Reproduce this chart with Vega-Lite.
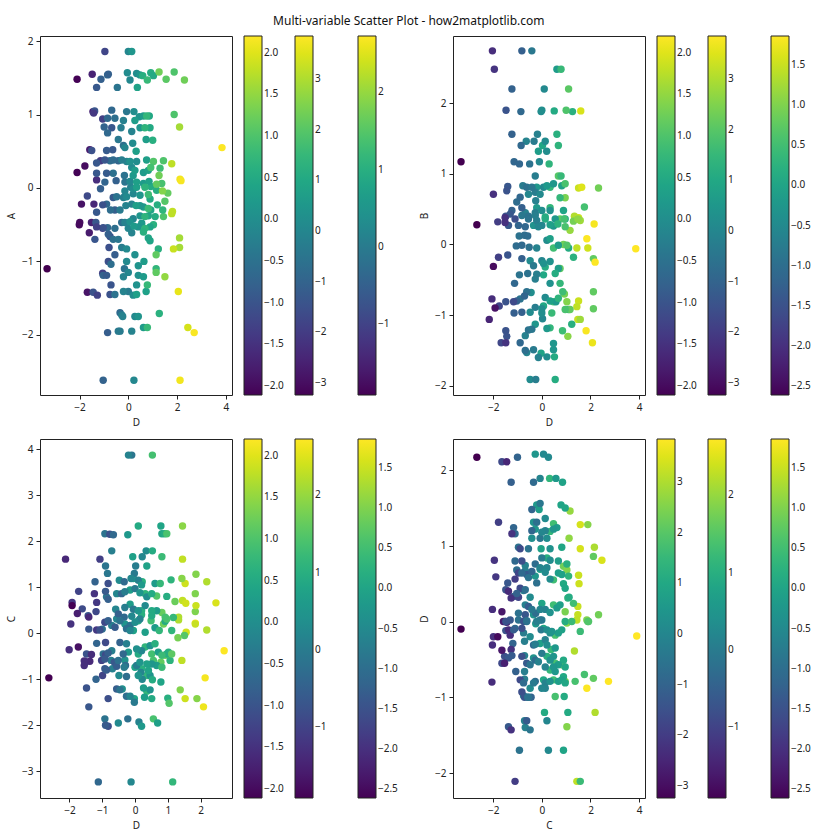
{
"$schema": "https://vega.github.io/schema/vega-lite/v6.json",
"padding": {"left": 6, "top": 14, "right": 5, "bottom": 5},
"title": {"text": "Multi-variable Scatter Plot - how2matplotlib.com", "fontSize": 12, "fontWeight": "normal", "anchor": "middle", "frame": "bounds", "offset": 8, "color": "#111"},
"bounds": "flush",
"columns": 2,
"spacing": {"row": 44, "column": 221},
"config": {
  "font": "Noto Sans",
  "view": {"stroke": "#222", "strokeWidth": 1},
  "circle": {"size": 55, "opacity": 1},
  "axis": {"grid": false, "domain": false, "format": "d", "tickColor": "#222", "tickSize": 4, "tickWidth": 1, "labelFontSize": 10, "labelColor": "#222", "titleFontSize": 10, "titleFontWeight": "normal", "titleColor": "#222", "labelPadding": 3, "titlePadding": 5},
  "legend": {"labelFontSize": 10, "labelColor": "#222", "gradientStrokeColor": "#222", "gradientStrokeWidth": 1, "labelOffset": 6, "padding": 0, "labelOverlap": false, "direction": "vertical", "gradientLength": 359, "gradientThickness": 18, "orient": "none", "legendY": 0}
},
"datasets": {
"tlB": [{"x":-0.96,"y":1.86},{"x":-1.48,"y":1.55},{"x":0.34,"y":1.56},{"x":0.92,"y":1.57},{"x":1.55,"y":1.48},{"x":-1.45,"y":1.04},{"x":-0.07,"y":1.04},{"x":-1.05,"y":0.94},{"x":0.45,"y":0.97},{"x":0.86,"y":0.98},{"x":-0.68,"y":0.82},{"x":0.89,"y":0.82},{"x":2.1,"y":0.83},{"x":0.14,"y":0.77},{"x":1.0,"y":0.65},{"x":-0.2,"y":0.58},{"x":-1.58,"y":0.52},{"x":-0.64,"y":0.52},{"x":-1.78,"y":0.3},{"x":-1.14,"y":0.37},{"x":-0.41,"y":0.37},{"x":0.34,"y":0.36},{"x":1.44,"y":0.37},{"x":-1.3,"y":0.11},{"x":-0.16,"y":0.17},{"x":-0.5,"y":0.1},{"x":0.62,"y":0.21},{"x":1.3,"y":0.27},{"x":-0.14,"y":0.08},{"x":0.62,"y":0.06},{"x":1.37,"y":0.06},{"x":-1.41,"y":-0.22},{"x":-0.62,"y":-0.13},{"x":0.1,"y":0.01},{"x":0.92,"y":0.02},{"x":1.62,"y":-0.07},{"x":0.2,"y":-0.08},{"x":0.89,"y":-0.15},{"x":1.5,"y":-0.18},{"x":-0.55,"y":-0.3},{"x":0.14,"y":-0.22},{"x":0.62,"y":-0.26},{"x":-1.51,"y":-0.47},{"x":-1.05,"y":-0.55},{"x":-1.6,"y":-0.61},{"x":-0.75,"y":-0.66},{"x":-0.27,"y":-0.47},{"x":0.2,"y":-0.42},{"x":0.82,"y":-0.38},{"x":1.44,"y":-0.39},{"x":0.14,"y":-0.61},{"x":0.55,"y":-0.48},{"x":1.03,"y":-0.5},{"x":0.82,"y":-0.68},{"x":2.1,"y":-0.68},{"x":2.1,"y":-0.81},{"x":-0.79,"y":-0.81},{"x":-0.55,"y":-0.91},{"x":-0.82,"y":-1.0},{"x":0.64,"y":-1.0},{"x":-1.05,"y":-1.16},{"x":-0.16,"y":-1.1},{"x":0.41,"y":-1.19},{"x":1.14,"y":-1.1},{"x":-0.71,"y":-1.32},{"x":-1.68,"y":-1.42},{"x":-0.75,"y":-1.45},{"x":0.0,"y":-1.41},{"x":0.73,"y":-1.41},{"x":-0.34,"y":-1.7},{"x":0.27,"y":-1.75},{"x":0.14,"y":-1.95},{"x":2.44,"y":-1.9},{"x":2.7,"y":-1.97},{"x":0.23,"y":-2.62}],
"tlC": [{"x":0.0,"y":1.86},{"x":-1.12,"y":1.48},{"x":-0.85,"y":1.54},{"x":0.48,"y":1.54},{"x":0.07,"y":1.47},{"x":1.03,"y":1.53},{"x":1.88,"y":1.58},{"x":2.3,"y":1.47},{"x":-1.3,"y":1.37},{"x":-1.38,"y":1.05},{"x":0.23,"y":1.04},{"x":1.88,"y":1.0},{"x":-0.85,"y":0.95},{"x":-0.2,"y":0.92},{"x":0.62,"y":0.98},{"x":-0.99,"y":0.83},{"x":0.48,"y":0.82},{"x":-0.85,"y":0.75},{"x":0.73,"y":0.66},{"x":-0.41,"y":0.66},{"x":0.18,"y":0.61},{"x":-1.5,"y":0.51},{"x":3.84,"y":0.55},{"x":-1.3,"y":0.34},{"x":-0.75,"y":0.37},{"x":-0.07,"y":0.36},{"x":0.75,"y":0.38},{"x":-1.3,"y":0.2},{"x":-0.62,"y":0.2},{"x":-0.96,"y":0.08},{"x":0.14,"y":0.28},{"x":0.82,"y":0.24},{"x":-1.14,"y":-0.01},{"x":0.07,"y":0.09},{"x":0.85,"y":0.09},{"x":-1.68,"y":-0.11},{"x":-1.3,"y":-0.33},{"x":-0.89,"y":-0.22},{"x":0.2,"y":-0.01},{"x":1.16,"y":-0.03},{"x":-0.2,"y":-0.13},{"x":0.48,"y":-0.1},{"x":1.19,"y":-0.23},{"x":1.41,"y":-0.3},{"x":-0.73,"y":-0.3},{"x":-0.1,"y":-0.24},{"x":0.48,"y":-0.24},{"x":0.92,"y":-0.3},{"x":-1.33,"y":-0.47},{"x":-0.85,"y":-0.54},{"x":-1.37,"y":-0.7},{"x":-0.62,"y":-0.7},{"x":-0.14,"y":-0.47},{"x":0.48,"y":-0.38},{"x":1.1,"y":-0.39},{"x":0.0,"y":-0.55},{"x":0.41,"y":-0.53},{"x":0.89,"y":-0.53},{"x":0.89,"y":-0.72},{"x":1.23,"y":-0.83},{"x":-0.27,"y":-0.81},{"x":0.27,"y":-0.91},{"x":-0.71,"y":-1.04},{"x":0.41,"y":-1.06},{"x":-1.03,"y":-1.19},{"x":0.0,"y":-1.15},{"x":0.62,"y":-1.21},{"x":-3.33,"y":-1.1},{"x":0.34,"y":-1.32},{"x":-1.44,"y":-1.42},{"x":-0.55,"y":-1.45},{"x":0.2,"y":-1.46},{"x":-0.27,"y":-1.73},{"x":0.41,"y":-1.75},{"x":1.27,"y":-1.71},{"x":-0.41,"y":-1.95},{"x":0.62,"y":-1.9},{"x":-1.03,"y":-2.62}],
"tlD": [{"x":0.14,"y":1.86},{"x":-2.1,"y":1.48},{"x":-0.82,"y":1.55},{"x":-0.45,"y":1.37},{"x":-0.04,"y":1.57},{"x":0.59,"y":1.53},{"x":0.37,"y":1.37},{"x":0.78,"y":1.47},{"x":1.26,"y":1.58},{"x":-1.42,"y":1.02},{"x":-0.68,"y":1.06},{"x":-0.55,"y":0.95},{"x":0.27,"y":0.92},{"x":0.75,"y":0.98},{"x":-0.3,"y":0.82},{"x":0.68,"y":0.82},{"x":-0.14,"y":0.55},{"x":0.32,"y":0.5},{"x":-0.89,"y":0.51},{"x":-2.1,"y":0.21},{"x":-0.96,"y":0.38},{"x":-0.62,"y":0.38},{"x":-0.27,"y":0.38},{"x":0.07,"y":0.36},{"x":1.03,"y":0.36},{"x":1.78,"y":0.33},{"x":-0.89,"y":0.2},{"x":0.2,"y":0.17},{"x":0.27,"y":0.24},{"x":0.92,"y":0.28},{"x":1.26,"y":0.17},{"x":2.12,"y":0.12},{"x":2.16,"y":0.1},{"x":0.34,"y":0.08},{"x":1.16,"y":0.05},{"x":-1.92,"y":-0.22},{"x":-1.05,"y":-0.23},{"x":-0.48,"y":-0.12},{"x":-0.14,"y":-0.04},{"x":0.34,"y":0.01},{"x":0.68,"y":0.01},{"x":1.4,"y":-0.04},{"x":-0.07,"y":-0.12},{"x":0.82,"y":-0.09},{"x":1.81,"y":-0.32},{"x":-0.34,"y":-0.3},{"x":0.32,"y":-0.24},{"x":0.82,"y":-0.28},{"x":-1.99,"y":-0.47},{"x":-2.01,"y":-0.5},{"x":-1.03,"y":-0.54},{"x":-1.3,"y":-0.53},{"x":-0.55,"y":-0.55},{"x":-0.82,"y":-0.63},{"x":-0.41,"y":-0.7},{"x":0.07,"y":-0.46},{"x":0.68,"y":-0.39},{"x":1.78,"y":-0.35},{"x":0.23,"y":-0.52},{"x":0.68,"y":-0.55},{"x":0.62,"y":-0.6},{"x":1.85,"y":-0.83},{"x":1.14,"y":-0.91},{"x":-0.07,"y":-0.83},{"x":-0.07,"y":-1.0},{"x":-0.89,"y":-1.19},{"x":-0.2,"y":-1.21},{"x":1.14,"y":-1.15},{"x":1.5,"y":-1.21},{"x":0.78,"y":-1.32},{"x":-1.27,"y":-1.46},{"x":-0.2,"y":-1.41},{"x":0.34,"y":-1.45},{"x":2.05,"y":-1.41},{"x":-0.23,"y":-1.75},{"x":-0.85,"y":-1.97},{"x":-0.34,"y":-1.95},{"x":0.78,"y":-1.9},{"x":2.12,"y":-2.62}],
"trA": [{"x":-2.03,"y":2.74},{"x":-1.95,"y":2.48},{"x":-1.23,"y":2.2},{"x":-1.47,"y":1.9},{"x":1.6,"y":1.89},{"x":-1.23,"y":1.56},{"x":-0.64,"y":1.46},{"x":0.03,"y":1.4},{"x":-0.14,"y":1.32},{"x":-1.14,"y":1.17},{"x":0.3,"y":1.14},{"x":0.68,"y":0.97},{"x":-1.99,"y":0.71},{"x":-1.4,"y":0.82},{"x":-0.78,"y":0.83},{"x":-0.21,"y":0.81},{"x":0.34,"y":0.81},{"x":1.51,"y":0.8},{"x":1.64,"y":0.81},{"x":-0.55,"y":0.71},{"x":-1.03,"y":0.6},{"x":-1.23,"y":0.48},{"x":-0.68,"y":0.45},{"x":-0.21,"y":0.52},{"x":0.34,"y":0.52},{"x":0.96,"y":0.66},{"x":1.34,"y":0.4},{"x":1.51,"y":0.38},{"x":0.14,"y":0.36},{"x":-2.67,"y":0.28},{"x":-1.81,"y":0.32},{"x":-1.37,"y":0.27},{"x":-0.82,"y":0.41},{"x":-0.34,"y":0.27},{"x":-0.93,"y":0.12},{"x":0.14,"y":0.39},{"x":0.75,"y":0.36},{"x":1.16,"y":0.2},{"x":1.85,"y":0.08},{"x":-1.05,"y":-0.02},{"x":0.48,"y":-0.05},{"x":0.89,"y":0.0},{"x":1.44,"y":-0.05},{"x":-1.78,"y":-0.18},{"x":-0.48,"y":-0.23},{"x":0.14,"y":-0.32},{"x":-0.92,"y":-0.43},{"x":0.07,"y":-0.43},{"x":0.75,"y":-0.34},{"x":-1.12,"y":-0.55},{"x":0.93,"y":-0.7},{"x":-2.05,"y":-0.77},{"x":-1.48,"y":-0.81},{"x":-0.89,"y":-0.77},{"x":-0.44,"y":-0.68},{"x":-0.48,"y":-0.96},{"x":0.07,"y":-0.87},{"x":0.48,"y":-0.81},{"x":1.03,"y":-0.81},{"x":1.51,"y":-0.8},{"x":1.44,"y":-0.88},{"x":0.41,"y":-0.97},{"x":-2.16,"y":-1.06},{"x":1.48,"y":-1.06},{"x":-1.48,"y":-1.22},{"x":-1.67,"y":-1.39},{"x":-0.68,"y":-1.29},{"x":-0.27,"y":-1.13},{"x":-0.62,"y":-1.53},{"x":-0.03,"y":-1.54},{"x":0.34,"y":-1.18},{"x":1.07,"y":-1.3},{"x":1.82,"y":-1.22},{"x":-0.48,"y":-1.91}],
"trC": [{"x":-0.41,"y":2.74},{"x":0.62,"y":2.48},{"x":0.1,"y":2.2},{"x":-0.86,"y":1.88},{"x":1.26,"y":1.88},{"x":-0.18,"y":1.56},{"x":-0.85,"y":1.4},{"x":0.14,"y":1.46},{"x":0.2,"y":1.32},{"x":-3.32,"y":1.17},{"x":-0.92,"y":1.14},{"x":-0.27,"y":0.97},{"x":-1.44,"y":0.76},{"x":-0.62,"y":0.81},{"x":0.07,"y":0.81},{"x":0.48,"y":0.86},{"x":0.82,"y":0.83},{"x":2.33,"y":0.8},{"x":-0.27,"y":0.74},{"x":-0.89,"y":0.67},{"x":-1.3,"y":0.43},{"x":-0.55,"y":0.4},{"x":-0.27,"y":0.45},{"x":0.34,"y":0.48},{"x":0.89,"y":0.48},{"x":1.75,"y":0.53},{"x":0.55,"y":0.36},{"x":-1.48,"y":0.4},{"x":-0.96,"y":0.27},{"x":-0.55,"y":0.36},{"x":-0.21,"y":0.34},{"x":-0.71,"y":0.13},{"x":0.0,"y":0.27},{"x":0.48,"y":0.26},{"x":0.96,"y":0.36},{"x":1.3,"y":-0.18},{"x":2.12,"y":-0.2},{"x":3.86,"y":-0.06},{"x":-0.82,"y":-0.01},{"x":0.21,"y":0.06},{"x":0.68,"y":-0.01},{"x":1.1,"y":-0.05},{"x":-1.4,"y":-0.15},{"x":-0.34,"y":-0.3},{"x":0.0,"y":-0.23},{"x":0.34,"y":-0.24},{"x":-0.58,"y":-0.41},{"x":-0.21,"y":-0.42},{"x":0.68,"y":-0.34},{"x":0.34,"y":-0.55},{"x":2.12,"y":-0.67},{"x":-1.75,"y":-0.87},{"x":-1.03,"y":-0.8},{"x":-0.62,"y":-0.67},{"x":-1.14,"y":-0.97},{"x":-0.27,"y":-0.89},{"x":0.14,"y":-0.75},{"x":0.58,"y":-0.81},{"x":1.1,"y":-0.92},{"x":2.12,"y":-0.91},{"x":0.03,"y":-1.05},{"x":-1.44,"y":-1.3},{"x":-0.89,"y":-1.39},{"x":-0.55,"y":-1.21},{"x":-0.68,"y":-1.5},{"x":-0.14,"y":-1.6},{"x":0.21,"y":-1.59},{"x":0.48,"y":-1.4},{"x":1.23,"y":-1.13},{"x":0.48,"y":-1.49},{"x":-0.25,"y":-1.91}],
"trD": [{"x":-0.82,"y":2.74},{"x":0.79,"y":2.48},{"x":1.1,"y":2.2},{"x":-0.03,"y":1.88},{"x":0.0,"y":1.9},{"x":0.51,"y":1.89},{"x":1.0,"y":1.9},{"x":0.62,"y":1.56},{"x":-0.32,"y":1.46},{"x":0.68,"y":1.4},{"x":-0.5,"y":1.14},{"x":-0.1,"y":1.17},{"x":0.79,"y":0.97},{"x":-0.41,"y":0.81},{"x":0.21,"y":0.83},{"x":0.96,"y":0.86},{"x":-0.07,"y":0.71},{"x":-1.51,"y":0.38},{"x":-0.82,"y":0.52},{"x":-0.25,"y":0.62},{"x":0.0,"y":0.48},{"x":0.75,"y":0.66},{"x":0.92,"y":0.36},{"x":1.58,"y":0.34},{"x":-1.51,"y":0.31},{"x":-1.1,"y":0.36},{"x":-0.68,"y":0.25},{"x":-0.27,"y":0.41},{"x":-0.14,"y":0.25},{"x":-0.58,"y":0.12},{"x":0.34,"y":0.28},{"x":0.66,"y":0.29},{"x":0.96,"y":0.25},{"x":1.3,"y":0.33},{"x":1.48,"y":0.36},{"x":2.15,"y":0.29},{"x":1.89,"y":-0.05},{"x":2.19,"y":-0.25},{"x":-0.52,"y":-0.04},{"x":-0.21,"y":-0.05},{"x":0.34,"y":0.08},{"x":1.03,"y":-0.01},{"x":-1.99,"y":-0.31},{"x":-0.82,"y":-0.2},{"x":0.07,"y":-0.27},{"x":-0.27,"y":-0.49},{"x":0.55,"y":-0.41},{"x":0.75,"y":-0.55},{"x":0.86,"y":-0.67},{"x":-1.92,"y":-0.9},{"x":-1.16,"y":-0.81},{"x":-0.71,"y":-0.73},{"x":-0.82,"y":-0.96},{"x":0.0,"y":-0.91},{"x":0.34,"y":-0.8},{"x":0.68,"y":-0.76},{"x":1.16,"y":-0.92},{"x":0.96,"y":-0.92},{"x":0.0,"y":-0.97},{"x":1.58,"y":-1.06},{"x":-1.48,"y":-1.39},{"x":-0.41,"y":-1.2},{"x":-0.34,"y":-1.49},{"x":0.52,"y":-1.59},{"x":0.21,"y":-1.19},{"x":0.85,"y":-1.22},{"x":2.08,"y":-1.39},{"x":0.55,"y":-1.91}],
"blA": [{"x":0.53,"y":3.87},{"x":0.1,"y":2.33},{"x":-0.92,"y":2.16},{"x":-0.22,"y":2.14},{"x":-0.71,"y":1.79},{"x":-2.12,"y":1.61},{"x":1.45,"y":1.61},{"x":-0.07,"y":1.66},{"x":-0.9,"y":1.46},{"x":-0.84,"y":1.3},{"x":-1.22,"y":1.12},{"x":-0.48,"y":1.15},{"x":-0.05,"y":1.19},{"x":0.22,"y":1.12},{"x":1.53,"y":1.08},{"x":-1.72,"y":0.91},{"x":-1.92,"y":0.67},{"x":-1.61,"y":0.53},{"x":-1.43,"y":0.38},{"x":-0.87,"y":0.79},{"x":-0.56,"y":0.86},{"x":-0.15,"y":0.94},{"x":0.31,"y":0.86},{"x":0.66,"y":0.81},{"x":1.45,"y":0.71},{"x":1.55,"y":0.65},{"x":-0.59,"y":0.52},{"x":-0.15,"y":0.63},{"x":0.2,"y":0.49},{"x":0.82,"y":0.45},{"x":1.33,"y":0.29},{"x":-0.56,"y":0.31},{"x":0.2,"y":0.4},{"x":-1.96,"y":0.2},{"x":-1.41,"y":0.09},{"x":-1.0,"y":0.09},{"x":-0.71,"y":0.17},{"x":-0.31,"y":0.2},{"x":0.1,"y":0.27},{"x":-0.05,"y":0.06},{"x":0.49,"y":0.27},{"x":0.87,"y":0.2},{"x":1.33,"y":0.35},{"x":1.84,"y":0.22},{"x":1.56,"y":0.02},{"x":-2.01,"y":-0.36},{"x":-1.17,"y":-0.22},{"x":-1.48,"y":-0.45},{"x":-1.51,"y":-0.63},{"x":-0.97,"y":-0.45},{"x":-0.71,"y":-0.38},{"x":-0.2,"y":-0.41},{"x":-0.73,"y":-0.59},{"x":-0.31,"y":-0.58},{"x":-0.69,"y":-0.77},{"x":0.0,"y":-0.74},{"x":0.1,"y":-0.45},{"x":0.31,"y":-0.3},{"x":0.51,"y":-0.45},{"x":0.92,"y":-0.48},{"x":0.56,"y":-0.59},{"x":0.79,"y":-0.63},{"x":0.2,"y":-0.77},{"x":1.43,"y":-0.59},{"x":-2.63,"y":-0.97},{"x":-1.19,"y":-1.0},{"x":-0.49,"y":-0.92},{"x":0.36,"y":-0.92},{"x":-1.48,"y":-1.19},{"x":-0.39,"y":-1.21},{"x":-0.02,"y":-1.42},{"x":0.36,"y":-1.26},{"x":-1.41,"y":-1.6},{"x":1.53,"y":-1.42},{"x":-0.92,"y":-1.86},{"x":-0.51,"y":-1.95},{"x":0.56,"y":-1.86},{"x":-1.12,"y":-3.23}],
"blB": [{"x":-0.1,"y":3.87},{"x":0.79,"y":2.33},{"x":-0.77,"y":2.15},{"x":0.82,"y":2.16},{"x":0.9,"y":2.16},{"x":0.34,"y":1.79},{"x":-1.07,"y":1.61},{"x":0.22,"y":1.66},{"x":0.02,"y":1.46},{"x":-0.02,"y":1.3},{"x":-0.82,"y":1.08},{"x":-0.33,"y":1.12},{"x":0.1,"y":1.15},{"x":0.61,"y":1.08},{"x":1.1,"y":1.16},{"x":1.86,"y":1.28},{"x":2.19,"y":1.12},{"x":-1.24,"y":0.86},{"x":-1.92,"y":0.6},{"x":-1.17,"y":0.67},{"x":-0.41,"y":0.86},{"x":0.0,"y":0.97},{"x":0.36,"y":0.79},{"x":0.97,"y":0.8},{"x":1.84,"y":0.86},{"x":2.47,"y":0.66},{"x":-0.51,"y":0.42},{"x":-0.05,"y":0.52},{"x":0.31,"y":0.6},{"x":0.66,"y":0.49},{"x":1.17,"y":0.34},{"x":1.84,"y":0.47},{"x":-0.33,"y":0.35},{"x":-1.41,"y":0.35},{"x":-1.17,"y":0.07},{"x":-0.92,"y":0.24},{"x":-0.61,"y":0.13},{"x":-0.15,"y":0.17},{"x":-0.26,"y":0.1},{"x":0.15,"y":0.31},{"x":0.61,"y":0.12},{"x":0.92,"y":0.26},{"x":1.12,"y":0.06},{"x":2.19,"y":0.07},{"x":1.51,"y":-0.05},{"x":-1.73,"y":-0.3},{"x":-0.9,"y":-0.2},{"x":-1.33,"y":-0.46},{"x":-1.38,"y":-0.61},{"x":-0.9,"y":-0.47},{"x":-0.46,"y":-0.2},{"x":-0.36,"y":-0.45},{"x":-1.02,"y":-0.59},{"x":-0.63,"y":-0.63},{"x":-0.29,"y":-0.7},{"x":-0.56,"y":-0.72},{"x":0.05,"y":-0.7},{"x":0.2,"y":-0.38},{"x":0.46,"y":-0.27},{"x":0.71,"y":-0.41},{"x":1.02,"y":-0.41},{"x":0.66,"y":-0.7},{"x":0.51,"y":-0.67},{"x":0.18,"y":-0.85},{"x":0.97,"y":-0.45},{"x":1.07,"y":-0.59},{"x":2.72,"y":-0.38},{"x":0.22,"y":-1.0},{"x":-0.99,"y":-0.92},{"x":-0.26,"y":-0.94},{"x":0.46,"y":-0.92},{"x":0.79,"y":-1.06},{"x":-0.56,"y":-1.21},{"x":-0.26,"y":-1.37},{"x":-0.02,"y":-1.5},{"x":0.46,"y":-1.23},{"x":-0.82,"y":-1.42},{"x":1.0,"y":-1.41},{"x":1.89,"y":-1.42},{"x":-0.82,"y":-2.02},{"x":-0.22,"y":-1.86},{"x":0.12,"y":-1.93},{"x":0.69,"y":-1.95},{"x":1.15,"y":-3.23}],
"blD": [{"x":-0.2,"y":3.87},{"x":1.45,"y":2.33},{"x":-0.66,"y":2.14},{"x":0.97,"y":2.16},{"x":0.53,"y":1.79},{"x":0.82,"y":1.66},{"x":0.36,"y":1.46},{"x":-0.12,"y":1.19},{"x":0.2,"y":1.05},{"x":0.77,"y":1.08},{"x":1.43,"y":1.19},{"x":-0.9,"y":0.91},{"x":-1.76,"y":0.43},{"x":-1.19,"y":0.47},{"x":-0.82,"y":0.74},{"x":-0.31,"y":0.9},{"x":0.15,"y":0.88},{"x":0.51,"y":0.86},{"x":1.22,"y":0.69},{"x":1.86,"y":0.6},{"x":-0.31,"y":0.56},{"x":0.1,"y":0.49},{"x":0.51,"y":0.49},{"x":0.97,"y":0.31},{"x":1.84,"y":0.2},{"x":-0.1,"y":0.37},{"x":0.51,"y":0.38},{"x":-1.07,"y":0.07},{"x":-0.82,"y":0.27},{"x":-0.46,"y":0.27},{"x":0.0,"y":0.24},{"x":-0.15,"y":0.06},{"x":0.31,"y":0.02},{"x":0.74,"y":0.06},{"x":0.92,"y":0.35},{"x":1.31,"y":-0.1},{"x":-1.55,"y":-0.6},{"x":-1.55,"y":-0.7},{"x":-0.82,"y":-0.43},{"x":-0.26,"y":-0.23},{"x":-0.92,"y":-0.56},{"x":-0.51,"y":-0.59},{"x":-0.92,"y":-0.77},{"x":-0.33,"y":-0.74},{"x":0.15,"y":-0.63},{"x":0.05,"y":-0.34},{"x":0.61,"y":-0.23},{"x":0.82,"y":-0.48},{"x":1.12,"y":-0.45},{"x":0.82,"y":-0.74},{"x":0.36,"y":-0.67},{"x":0.41,"y":-0.81},{"x":2.14,"y":-0.97},{"x":-0.87,"y":-0.8},{"x":0.1,"y":-0.92},{"x":0.53,"y":-1.01},{"x":-0.46,"y":-1.23},{"x":-0.15,"y":-1.37},{"x":0.26,"y":-1.19},{"x":0.29,"y":-1.39},{"x":0.51,"y":-1.42},{"x":1.04,"y":-1.52},{"x":1.38,"y":-1.23},{"x":2.09,"y":-1.6},{"x":-0.9,"y":-2.0},{"x":0.2,"y":-2.02},{"x":-0.12,"y":-3.23}],
"brA": [{"x":-2.67,"y":2.17},{"x":-1.64,"y":2.11},{"x":-0.27,"y":2.21},{"x":-1.26,"y":1.84},{"x":0.32,"y":1.89},{"x":-0.21,"y":1.54},{"x":-0.11,"y":1.48},{"x":1.16,"y":1.46},{"x":-1.78,"y":1.31},{"x":1.58,"y":1.28},{"x":-0.34,"y":1.31},{"x":0.48,"y":1.29},{"x":-1.16,"y":1.24},{"x":-1.1,"y":1.16},{"x":-0.27,"y":1.22},{"x":0.34,"y":1.19},{"x":-0.41,"y":1.1},{"x":1.12,"y":1.1},{"x":-1.95,"y":0.81},{"x":-1.89,"y":0.59},{"x":-0.96,"y":0.98},{"x":-0.03,"y":0.96},{"x":0.21,"y":0.84},{"x":1.58,"y":0.96},{"x":-1.1,"y":0.8},{"x":-0.68,"y":0.74},{"x":0.11,"y":0.69},{"x":0.89,"y":0.73},{"x":-1.03,"y":0.68},{"x":-0.68,"y":0.67},{"x":-0.27,"y":0.6},{"x":-0.07,"y":0.69},{"x":0.48,"y":0.55},{"x":1.03,"y":0.68},{"x":1.51,"y":0.61},{"x":1.53,"y":0.5},{"x":-1.4,"y":0.51},{"x":-1.48,"y":0.42},{"x":-1.16,"y":0.33},{"x":-0.75,"y":0.41},{"x":-0.48,"y":0.32},{"x":-0.68,"y":0.22},{"x":-0.34,"y":0.09},{"x":0.0,"y":0.24},{"x":0.48,"y":0.22},{"x":0.96,"y":0.13},{"x":1.48,"y":0.2},{"x":1.48,"y":0.09},{"x":-2.03,"y":0.16},{"x":-1.51,"y":0.0},{"x":-0.96,"y":0.11},{"x":-0.25,"y":-0.03},{"x":-1.99,"y":-0.2},{"x":-2.03,"y":-0.31},{"x":-1.48,"y":-0.12},{"x":-1.1,"y":-0.09},{"x":-1.19,"y":-0.29},{"x":-1.53,"y":-0.46},{"x":-1.37,"y":-0.48},{"x":-1.64,"y":-0.55},{"x":-0.96,"y":0.02},{"x":-0.75,"y":-0.15},{"x":-0.48,"y":-0.2},{"x":-0.71,"y":-0.26},{"x":-0.71,"y":-0.45},{"x":-0.34,"y":-0.48},{"x":-0.71,"y":-0.66},{"x":-0.71,"y":-0.76},{"x":-0.75,"y":-0.98},{"x":-0.48,"y":-0.88},{"x":0.07,"y":-0.09},{"x":0.55,"y":-0.18},{"x":1.03,"y":-0.02},{"x":1.44,"y":0.02},{"x":-0.07,"y":-0.29},{"x":0.38,"y":-0.37},{"x":0.21,"y":-0.46},{"x":0.55,"y":-0.55},{"x":1.34,"y":-0.39},{"x":0.34,"y":-0.64},{"x":0.82,"y":-0.57},{"x":0.07,"y":-0.77},{"x":0.48,"y":-0.77},{"x":0.96,"y":-0.79},{"x":1.85,"y":-0.88},{"x":-2.05,"y":-0.8},{"x":0.55,"y":-0.99},{"x":0.11,"y":-1.2},{"x":-0.71,"y":-1.31},{"x":-0.68,"y":-1.4},{"x":-1.37,"y":-1.39},{"x":1.03,"y":-1.39},{"x":-0.92,"y":-1.7},{"x":1.44,"y":-2.11}],
"brB": [{"x":-1.44,"y":2.11},{"x":0.27,"y":2.17},{"x":-0.34,"y":1.84},{"x":0.58,"y":1.89},{"x":-0.07,"y":1.56},{"x":0.79,"y":1.54},{"x":-0.41,"y":1.48},{"x":1.89,"y":1.28},{"x":-0.21,"y":1.31},{"x":0.62,"y":1.24},{"x":-1.23,"y":1.16},{"x":-0.41,"y":1.2},{"x":0.14,"y":1.2},{"x":-0.07,"y":1.1},{"x":-0.89,"y":0.96},{"x":0.0,"y":0.84},{"x":0.82,"y":0.98},{"x":2.16,"y":0.98},{"x":2.47,"y":0.81},{"x":-0.82,"y":0.8},{"x":-0.27,"y":0.76},{"x":0.21,"y":0.71},{"x":0.34,"y":0.81},{"x":1.03,"y":0.76},{"x":-0.96,"y":0.64},{"x":-0.62,"y":0.62},{"x":-0.41,"y":0.66},{"x":-0.21,"y":0.51},{"x":0.34,"y":0.56},{"x":0.68,"y":0.64},{"x":1.1,"y":0.6},{"x":0.89,"y":0.5},{"x":-1.1,"y":0.56},{"x":-1.37,"y":0.4},{"x":-0.89,"y":0.44},{"x":-0.96,"y":0.32},{"x":-1.26,"y":0.31},{"x":-0.55,"y":0.2},{"x":-0.25,"y":0.11},{"x":0.14,"y":0.16},{"x":0.62,"y":0.18},{"x":1.07,"y":0.31},{"x":1.3,"y":0.24},{"x":-1.64,"y":0.13},{"x":-1.44,"y":-0.01},{"x":-0.68,"y":0.09},{"x":0.0,"y":0.02},{"x":-1.81,"y":-0.2},{"x":-1.58,"y":0.0},{"x":-1.37,"y":-0.11},{"x":-1.3,"y":-0.18},{"x":-1.64,"y":-0.38},{"x":-1.26,"y":-0.37},{"x":-1.53,"y":-0.55},{"x":-0.75,"y":0.0},{"x":-0.82,"y":-0.09},{"x":-0.34,"y":-0.31},{"x":-0.82,"y":-0.46},{"x":-0.62,"y":-0.55},{"x":-0.27,"y":-0.51},{"x":-0.89,"y":-0.77},{"x":-0.82,"y":-0.93},{"x":-0.44,"y":-1.0},{"x":-0.27,"y":-0.79},{"x":-0.07,"y":0.02},{"x":-0.03,"y":-0.11},{"x":0.34,"y":-0.15},{"x":0.68,"y":-0.15},{"x":0.96,"y":0.0},{"x":1.23,"y":0.0},{"x":1.85,"y":0.02},{"x":0.14,"y":-0.24},{"x":0.55,"y":-0.35},{"x":0.0,"y":-0.42},{"x":0.48,"y":-0.46},{"x":0.89,"y":-0.51},{"x":0.14,"y":-0.6},{"x":0.55,"y":-0.66},{"x":0.89,"y":-0.73},{"x":0.14,"y":-0.81},{"x":0.68,"y":-0.79},{"x":0.14,"y":-0.88},{"x":1.37,"y":-0.79},{"x":2.74,"y":-0.79},{"x":-0.71,"y":-1.0},{"x":0.92,"y":-0.99},{"x":0.21,"y":-1.31},{"x":-0.62,"y":-1.31},{"x":-1.26,"y":-1.43},{"x":2.19,"y":-1.2},{"x":0.27,"y":-1.7},{"x":-1.1,"y":-2.11}],
"brC": [{"x":-1.0,"y":2.17},{"x":0.07,"y":2.21},{"x":-0.07,"y":1.89},{"x":0.85,"y":1.84},{"x":0.96,"y":1.5},{"x":0.14,"y":1.36},{"x":0.0,"y":1.18},{"x":0.48,"y":1.22},{"x":0.21,"y":1.1},{"x":-0.55,"y":0.96},{"x":0.34,"y":0.96},{"x":2.12,"y":0.86},{"x":-0.07,"y":0.71},{"x":0.68,"y":0.8},{"x":-0.82,"y":0.64},{"x":-0.55,"y":0.58},{"x":0.14,"y":0.65},{"x":0.82,"y":0.62},{"x":0.96,"y":0.44},{"x":-1.03,"y":0.37},{"x":-0.68,"y":0.42},{"x":-0.41,"y":0.16},{"x":-0.07,"y":0.16},{"x":0.34,"y":0.12},{"x":0.75,"y":0.22},{"x":1.12,"y":0.32},{"x":1.89,"y":0.0},{"x":2.33,"y":0.09},{"x":-1.3,"y":0.02},{"x":-0.62,"y":0.0},{"x":-3.32,"y":-0.1},{"x":-1.48,"y":0.0},{"x":-1.16,"y":-0.11},{"x":-1.23,"y":-0.45},{"x":-1.07,"y":-0.66},{"x":-0.62,"y":0.01},{"x":-0.27,"y":-0.3},{"x":-0.48,"y":-0.57},{"x":-0.14,"y":-0.53},{"x":-0.75,"y":-0.81},{"x":-0.58,"y":-1.0},{"x":-0.34,"y":-0.81},{"x":-0.21,"y":0.0},{"x":0.21,"y":-0.11},{"x":0.41,"y":-0.13},{"x":0.82,"y":-0.11},{"x":1.92,"y":0.0},{"x":1.58,"y":-0.13},{"x":0.21,"y":-0.31},{"x":0.34,"y":-0.51},{"x":0.68,"y":-0.57},{"x":0.48,"y":-0.6},{"x":0.96,"y":-0.6},{"x":0.34,"y":-0.79},{"x":0.82,"y":-0.77},{"x":0.0,"y":-0.88},{"x":0.96,"y":-0.81},{"x":1.75,"y":-0.7},{"x":2.12,"y":-0.75},{"x":3.9,"y":-0.19},{"x":-0.55,"y":-1.0},{"x":-0.48,"y":-1.43},{"x":1.07,"y":-1.2},{"x":0.89,"y":-1.7},{"x":1.58,"y":-2.11}]
},
"concat": [
{
 "width": 192, "height": 359,
 "resolve": {"scale": {"color": "independent"}, "legend": {"color": "independent"}},
 "layer": [
  {"data": {"name": "tlB"}, "mark": "circle", "encoding": {
   "x": {"field": "x", "type": "quantitative", "scale": {"domain": [-3.62, 4.25], "nice": false, "zero": false}, "axis": {"values": [-2, 0, 2, 4], "title": "D"}},
   "y": {"field": "y", "type": "quantitative", "scale": {"domain": [-2.82, 2.07], "nice": false, "zero": false}, "axis": {"values": [-2, -1, 0, 1, 2], "title": "A"}},
   "color": {"field": "x", "type": "quantitative", "scale": {"scheme": "viridis", "domain": [-1.92, 2.73]}, "legend": {"legendX": 318, "title": null, "values": [-1, 0, 1, 2], "format": "d"}}}},
  {"data": {"name": "tlC"}, "mark": "circle", "encoding": {
   "x": {"field": "x", "type": "quantitative"},
   "y": {"field": "y", "type": "quantitative"},
   "color": {"field": "x", "type": "quantitative", "scale": {"scheme": "viridis", "domain": [-3.24, 3.85]}, "legend": {"legendX": 255, "title": null, "values": [-3, -2, -1, 0, 1, 2, 3], "format": "d"}}}},
  {"data": {"name": "tlD"}, "mark": "circle", "encoding": {
   "x": {"field": "x", "type": "quantitative"},
   "y": {"field": "y", "type": "quantitative"},
   "color": {"field": "x", "type": "quantitative", "scale": {"scheme": "viridis", "domain": [-2.11, 2.2]}, "legend": {"legendX": 204, "title": null, "values": [-2, -1.5, -1, -0.5, 0, 0.5, 1, 1.5, 2], "format": ".1f"}}}}
 ]
},
{
 "width": 192, "height": 359,
 "resolve": {"scale": {"color": "independent"}, "legend": {"color": "independent"}},
 "layer": [
  {"data": {"name": "trA"}, "mark": "circle", "encoding": {
   "x": {"field": "x", "type": "quantitative", "scale": {"domain": [-3.65, 4.24], "nice": false, "zero": false}, "axis": {"values": [-2, 0, 2, 4], "title": "D"}},
   "y": {"field": "y", "type": "quantitative", "scale": {"domain": [-2.13, 2.95], "nice": false, "zero": false}, "axis": {"values": [-2, -1, 0, 1, 2], "title": "B"}},
   "color": {"field": "x", "type": "quantitative", "scale": {"scheme": "viridis", "domain": [-2.61, 1.86]}, "legend": {"legendX": 318, "title": null, "values": [-2.5, -2, -1.5, -1, -0.5, 0, 0.5, 1, 1.5], "format": ".1f"}}}},
  {"data": {"name": "trC"}, "mark": "circle", "encoding": {
   "x": {"field": "x", "type": "quantitative"},
   "y": {"field": "y", "type": "quantitative"},
   "color": {"field": "x", "type": "quantitative", "scale": {"scheme": "viridis", "domain": [-3.24, 3.85]}, "legend": {"legendX": 255, "title": null, "values": [-3, -2, -1, 0, 1, 2, 3], "format": "d"}}}},
  {"data": {"name": "trD"}, "mark": "circle", "encoding": {
   "x": {"field": "x", "type": "quantitative"},
   "y": {"field": "y", "type": "quantitative"},
   "color": {"field": "x", "type": "quantitative", "scale": {"scheme": "viridis", "domain": [-2.11, 2.2]}, "legend": {"legendX": 204, "title": null, "values": [-2, -1.5, -1, -0.5, 0, 0.5, 1, 1.5, 2], "format": ".1f"}}}}
 ]
},
{
 "width": 192, "height": 359,
 "resolve": {"scale": {"color": "independent"}, "legend": {"color": "independent"}},
 "layer": [
  {"data": {"name": "blA"}, "mark": "circle", "encoding": {
   "x": {"field": "x", "type": "quantitative", "scale": {"domain": [-2.9, 2.96], "nice": false, "zero": false}, "axis": {"values": [-2, -1, 0, 1, 2], "title": "D"}},
   "y": {"field": "y", "type": "quantitative", "scale": {"domain": [-3.58, 4.22], "nice": false, "zero": false}, "axis": {"values": [-3, -2, -1, 0, 1, 2, 3, 4], "title": "C"}},
   "color": {"field": "x", "type": "quantitative", "scale": {"scheme": "viridis", "domain": [-2.61, 1.86]}, "legend": {"legendX": 318, "title": null, "values": [-2.5, -2, -1.5, -1, -0.5, 0, 0.5, 1, 1.5], "format": ".1f"}}}},
  {"data": {"name": "blB"}, "mark": "circle", "encoding": {
   "x": {"field": "x", "type": "quantitative"},
   "y": {"field": "y", "type": "quantitative"},
   "color": {"field": "x", "type": "quantitative", "scale": {"scheme": "viridis", "domain": [-1.92, 2.73]}, "legend": {"legendX": 255, "title": null, "values": [-1, 0, 1, 2], "format": "d"}}}},
  {"data": {"name": "blD"}, "mark": "circle", "encoding": {
   "x": {"field": "x", "type": "quantitative"},
   "y": {"field": "y", "type": "quantitative"},
   "color": {"field": "x", "type": "quantitative", "scale": {"scheme": "viridis", "domain": [-2.11, 2.2]}, "legend": {"legendX": 204, "title": null, "values": [-2, -1.5, -1, -0.5, 0, 0.5, 1, 1.5, 2], "format": ".1f"}}}}
 ]
},
{
 "width": 192, "height": 359,
 "resolve": {"scale": {"color": "independent"}, "legend": {"color": "independent"}},
 "layer": [
  {"data": {"name": "brA"}, "mark": "circle", "encoding": {
   "x": {"field": "x", "type": "quantitative", "scale": {"domain": [-3.65, 4.24], "nice": false, "zero": false}, "axis": {"values": [-2, 0, 2, 4], "title": "C"}},
   "y": {"field": "y", "type": "quantitative", "scale": {"domain": [-2.33, 2.41], "nice": false, "zero": false}, "axis": {"values": [-2, -1, 0, 1, 2], "title": "D"}},
   "color": {"field": "x", "type": "quantitative", "scale": {"scheme": "viridis", "domain": [-2.61, 1.86]}, "legend": {"legendX": 318, "title": null, "values": [-2.5, -2, -1.5, -1, -0.5, 0, 0.5, 1, 1.5], "format": ".1f"}}}},
  {"data": {"name": "brB"}, "mark": "circle", "encoding": {
   "x": {"field": "x", "type": "quantitative"},
   "y": {"field": "y", "type": "quantitative"},
   "color": {"field": "x", "type": "quantitative", "scale": {"scheme": "viridis", "domain": [-1.92, 2.73]}, "legend": {"legendX": 255, "title": null, "values": [-1, 0, 1, 2], "format": "d"}}}},
  {"data": {"name": "brC"}, "mark": "circle", "encoding": {
   "x": {"field": "x", "type": "quantitative"},
   "y": {"field": "y", "type": "quantitative"},
   "color": {"field": "x", "type": "quantitative", "scale": {"scheme": "viridis", "domain": [-3.24, 3.85]}, "legend": {"legendX": 204, "title": null, "values": [-3, -2, -1, 0, 1, 2, 3], "format": "d"}}}}
 ]
}
]
}
